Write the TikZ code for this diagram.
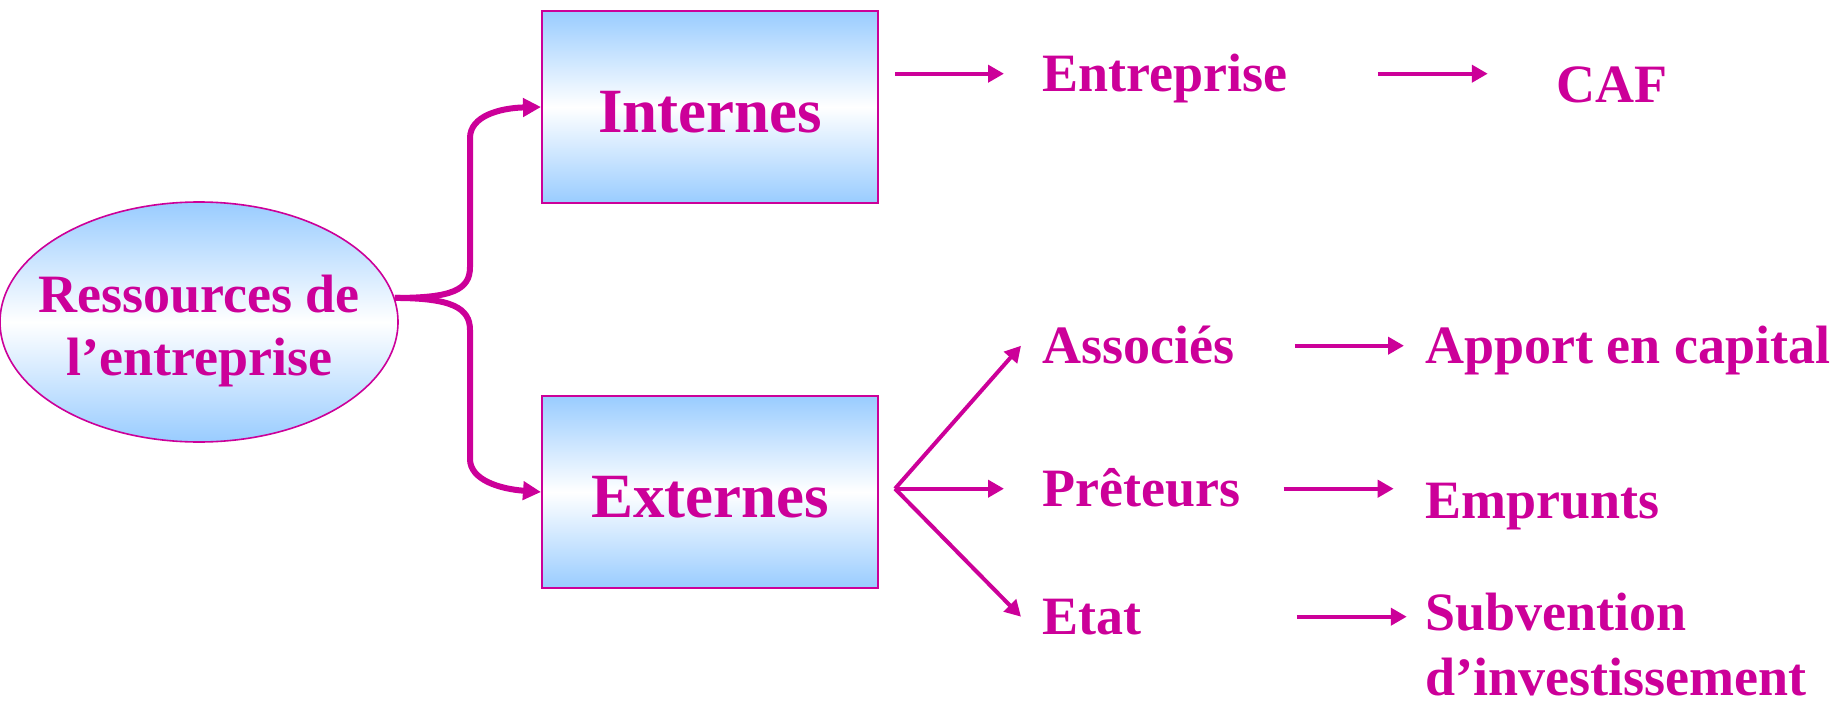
\documentclass[tikz,border=0pt]{standalone}
\usepackage{fontspec}
\setmainfont{Liberation Serif}
\usepackage{tikz}
\usetikzlibrary{
    positioning,      % For placing nodes relative to each other (e.g., below=of)
    shapes.geometric, % For the ellipse shape
    arrows.meta       % For modern arrow tips (e.g., Triangle)
}
\definecolor{magink}{RGB}{204,0,153}
\definecolor{skyblue}{RGB}{153,204,255}

\begin{document}
\begin{tikzpicture}[
    % one unit = one pixel of the 1835x706 layout
    x=0.5pt, y=-0.5pt,
    % Global style settings
    node distance=95.5pt,
    % Style for the shaded fill (blue at the edges, white in the middle)
    sky_fill/.style={
        top color=skyblue, bottom color=skyblue, middle color=white
    },
    % Style for the ellipse on the left
    root_style/.style={
        ellipse, draw=magink, sky_fill, line width=0.8pt,
        minimum width=199pt, minimum height=120pt, inner sep=0pt
    },
    % Style for the two boxes
    box_style/.style={
        rectangle, draw=magink, text=magink, sky_fill, line width=1pt,
        minimum width=168pt, minimum height=96pt,
        font=\fontsize{31.5}{36}\selectfont\bfseries,
        text height=25.8pt, text depth=0pt
    },
    % Style for the texts on the right
    item_font/.style={
        text=magink, inner sep=0pt,
        font=\fontsize{27}{32.5}\selectfont\bfseries
    },
    item_style/.style={
        item_font, text height=17.3pt, text depth=0pt, anchor=base west
    },
    % Style for arrowheads
    thin_arrow/.style={
        draw=magink, line width=2pt,
        -{Triangle[length=8pt, width=8.5pt]}
    },
    thick_arrow/.style={
        draw=magink, line width=3pt,
        -{Triangle[length=9pt, width=9pt]}
    }
]
    \useasboundingbox (0,0) rectangle (1835,706);

    % 1. The ellipse and the two boxes.
    \node[root_style, label={[item_font, align=center, yshift=-4.5pt,
        font=\fontsize{27}{31.5}\selectfont\bfseries]center:{Ressources de\\l’entreprise}}]
        (res) at (199,322) {};
    \node[box_style] (internes) at (710,107) {Internes};
    \node[box_style, below=of internes] (externes) {Externes};

    % 2. The texts on the right.
    \node[item_style] (ent) at (1042,91) {Entreprise};
    \node[item_style] (caf) at (1556,103) {CAF};
    \node[item_style] (assoc) at (1042,363) {Associés};
    \node[item_style] (apport) at (1425,363) {Apport en capital};
    \node[item_style] (pret) at (1042,506) {Prêteurs};
    \node[item_style] (emprunts) at (1425,518) {Emprunts};
    \node[item_style] (etat) at (1042,634) {Etat};
    \node[item_font, align=left, anchor=base west] (subv) at (1425,695)
        {Subvention\\d’investissement};

    % 3. The fork from the ellipse to the boxes.
    \draw[thick_arrow] (res.7) .. controls (452,298) and (470,290) .. (470,267)
        -- (470,138) .. controls (470,116) and (500,108) .. (internes.west);
    \draw[thick_arrow] (res.7) .. controls (452,298) and (470,308) .. (470,330)
        -- (470,459) .. controls (470,480) and (500,489) .. (externes.west);

    % 4. The thin arrows.
    \draw[thin_arrow] ([xshift=8pt]internes.east |- ent.west) -- ([xshift=-19pt]ent.west);
    \draw[thin_arrow] ([xshift=45pt]ent.east) -- ++(55pt,0);

    \coordinate (fan) at ([xshift=8pt]externes.east |- pret.west);
    \draw[thin_arrow] (fan) -- ([xshift=-10.5pt]assoc.west);
    \draw[thin_arrow] (fan) -- ([xshift=-19pt]pret.west);
    \draw[thin_arrow] (fan) -- ([xshift=-10.5pt]etat.west);

    \draw[thin_arrow] ([xshift=30pt]assoc.east) -- ([xshift=-10.5pt]apport.west);
    \draw[thin_arrow] ([xshift=21.5pt]pret.east) -- ++(55pt,0);
    \draw[thin_arrow] ([xshift=77.5pt]etat.east) -- ++(55pt,0);

\end{tikzpicture}
\end{document}
